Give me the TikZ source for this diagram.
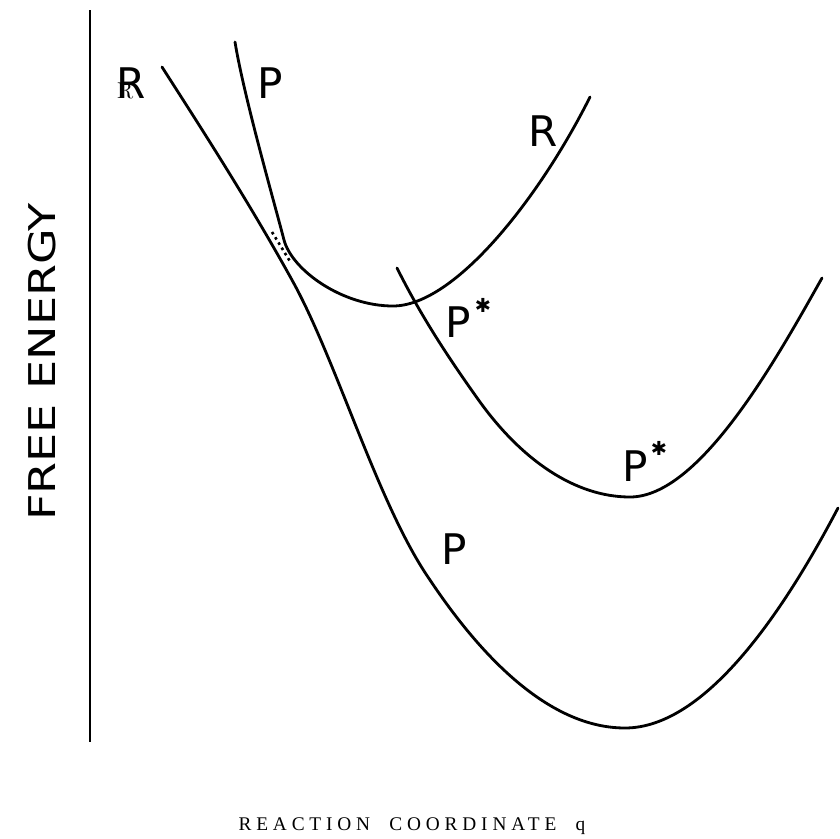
\documentclass[tikz,border=0pt]{standalone}
\usepackage{fontspec}
\newfontfamily\plotfont{DejaVu Sans}
\newfontfamily\spacedfont[LetterSpace=25]{Liberation Serif}
\usetikzlibrary{positioning}

\begin{document}
\begin{tikzpicture}[x=0.02cm,y=-0.02cm,
      curve/.style={line width=1.6pt,line cap=round,line join=round},
      axis/.style={line width=1.1pt},
      lbl/.style={font=\plotfont\fontsize{24}{24}\selectfont,inner sep=0pt},
      star/.style={font=\plotfont\fontsize{11}{11}\selectfont,inner sep=0pt}]

    \useasboundingbox (0,0) rectangle (840,839);

    % axis
    \coordinate (top) at (90,10);
    \coordinate (bot) at (90,742);
    \draw[axis] (top) -- (bot);

    % R (left) running into the lower P well
    \coordinate (ra) at (162,67);
    \coordinate (rb) at (292,280);
    \coordinate (rc) at (430,580);
    \coordinate (pmin) at (625,728);
    \coordinate (pend) at (838,508);
    \draw[curve] (ra) .. controls (205,134) and (250,204) .. (rb)
      .. controls (337,361) and (378,505) .. (rc)
      .. controls (482,658) and (550,728) .. (pmin)
      .. controls (705,728) and (783,613) .. (pend);

    % P (top) running into the R well
    \coordinate (pa) at (235,42);
    \coordinate (pb) at (284,240);
    \coordinate (rmin) at (393,306);
    \coordinate (rend) at (590,97);
    \draw[curve] (pa) .. controls (244,97) and (275,205) .. (pb)
      .. controls (292,270) and (342,306) .. (rmin)
      .. controls (455,306) and (540,197) .. (rend);

    % P* well
    \coordinate (sa) at (397,268);
    \coordinate (sb) at (480,402);
    \coordinate (smin) at (630,497);
    \coordinate (send) at (822,278);
    \draw[curve] (sa) .. controls (422,318) and (450,360) .. (sb)
      .. controls (522,460) and (575,497) .. (smin)
      .. controls (700,497) and (777,358) .. (send);

    % avoided crossing
    \coordinate (dota) at (272,232);
    \coordinate (dotb) at (291,263);
    \draw[line width=1.5pt,dotted] (dota) -- (dotb);

    % labels
    \node[lbl] (rl) at (131,83) {R};
    \node[inner sep=0pt,font=\fontsize{13}{13}\selectfont] (rs) at (125,91) {R};
    \node[lbl] (pl) at (270,83) {P};
    \node[lbl] (rr) at (543,131) {R};
    \node[lbl] (ps1) at (458,322) {P};
    \node[star] (s1) at (483,305) {✱};
    \node[lbl] (ps2) at (635,466) {P};
    \node[star] (s2) at (659,448) {✱};
    \node[lbl] (pb) at (454,549) {P};

    \node[rotate=90,inner sep=0pt] (ylab) at (42,362)
      {\scalebox{1.25}[1]{\plotfont\fontsize{21}{21}\selectfont FREE ENERGY}};
    \node[inner sep=0pt] (xlab) at (412,826)
      {\spacedfont\fontsize{11}{11}\selectfont REACTION\hspace{1em}COORDINATE\hspace{1em}q};
  \end{tikzpicture}
\end{document}
